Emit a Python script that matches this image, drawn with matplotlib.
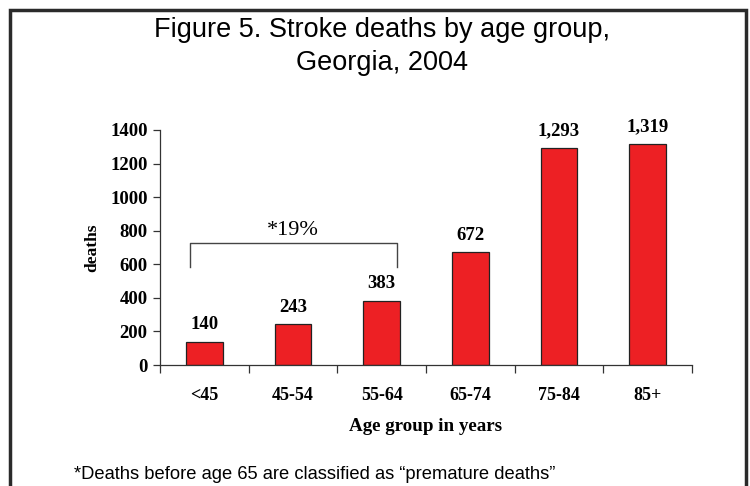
import matplotlib.pyplot as plt
from matplotlib.patches import Rectangle

# Stroke deaths by age group, Georgia 2004
age_groups = ['<45', '45-54', '55-64', '65-74', '75-84', '85+']
deaths = [140, 243, 383, 672, 1293, 1319]
yticks = [0, 200, 400, 600, 800, 1000, 1200, 1400]

serif = ['Liberation Serif', 'DejaVu Serif']
sans = ['Liberation Sans', 'DejaVu Sans']

fig = plt.figure(figsize=(7.5, 4.86), dpi=100)
ax = fig.add_axes([160 / 750, 1 - 365 / 486, 532 / 750, 235 / 486])

x = list(range(len(age_groups)))
ax.bar(x, deaths, width=0.41, color='#ed2024', edgecolor='#222222', linewidth=0.9)

for xi, v in zip(x, deaths):
    ax.annotate(f'{v:,}', (xi, v), xytext=(0, 6), textcoords='offset points',
                ha='center', va='bottom', fontsize=13.5, fontweight='bold', family=serif)

ax.set_xlim(-0.5, len(age_groups) - 0.5)
ax.set_ylim(0, 1400)
ax.set_yticks(yticks)
ax.set_yticklabels([str(t) for t in yticks], fontsize=13.5, fontweight='bold', family=serif)
ax.set_xticks([i - 0.5 for i in range(len(age_groups) + 1)])
ax.set_xticklabels([])
ax.set_xticks(x, minor=True)
ax.set_xticklabels(age_groups, minor=True, fontsize=13, fontweight='bold', family=serif)
ax.tick_params(axis='x', which='major', direction='out', length=6, width=0.9, color='#333333')
ax.tick_params(axis='x', which='minor', length=0, pad=16)
ax.tick_params(axis='y', direction='out', length=5, width=0.9, color='#333333', pad=4)
for s in ['top', 'right']:
    ax.spines[s].set_visible(False)
for s in ['left', 'bottom']:
    ax.spines[s].set_linewidth(0.9)
    ax.spines[s].set_color('#333333')

ax.set_xlabel('Age group in years', fontsize=13.7, fontweight='bold', family=serif, labelpad=10)
ax.set_ylabel('deaths', fontsize=12.5, fontweight='bold', family=serif, labelpad=7)

# bracket over the premature age groups
ax.plot([-0.16, -0.16, 2.17, 2.17], [585, 727, 727, 585], color='#444444', lw=1.0, clip_on=False)
ax.text(1.0, 745, '*19%', ha='center', va='bottom', fontsize=16, family=serif)

fig.text(0.51, 1 - 30 / 486, 'Figure 5. Stroke deaths by age group,', ha='center', va='center',
         fontsize=19.5, family=sans)
fig.text(0.51, 1 - 63 / 486, 'Georgia, 2004', ha='center', va='center', fontsize=19.5, family=sans)
fig.text(74 / 750, 1 - 474 / 486, '*Deaths before age 65 are classified as \u201cpremature deaths\u201d',
         ha='left', va='center', fontsize=13.2, family=sans)

# outer frame
fig.patches.append(Rectangle((10 / 750, -0.1), 736 / 750, 1.1 - 10 / 486, transform=fig.transFigure,
                             fill=False, edgecolor='#2a2a2a', linewidth=2.5, clip_on=False))

fig.savefig('out.png', dpi=100)
